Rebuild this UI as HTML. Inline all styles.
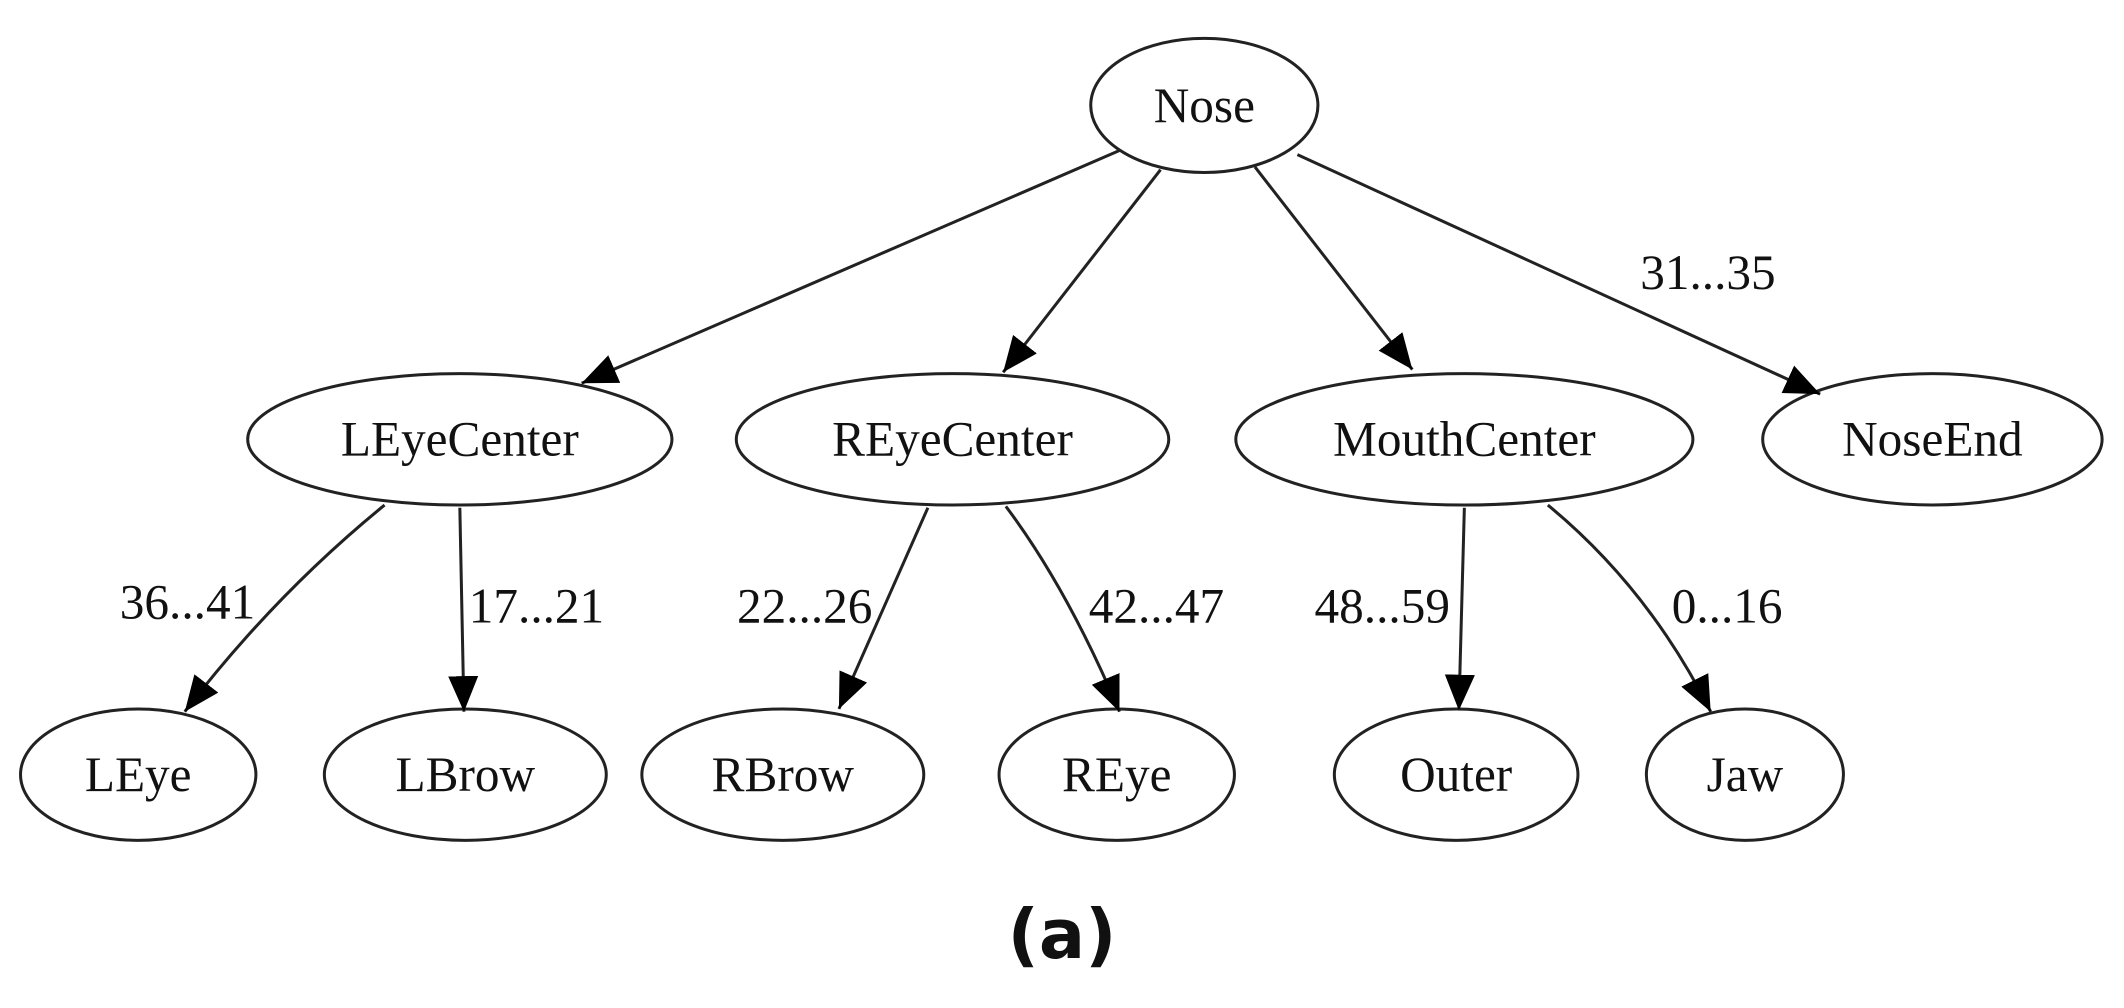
<!DOCTYPE html>
<html><head><meta charset="utf-8"><style>
html,body{margin:0;padding:0;background:#fff;}
svg{display:block;}
text{font-family:"Liberation Serif",serif;font-size:36px;fill:#111;}
</style></head><body>
<svg width="2124" height="1008" viewBox="0 0 1552 736.5" preserveAspectRatio="none" xmlns="http://www.w3.org/2000/svg">
<defs>
<marker id="a" markerUnits="userSpaceOnUse" markerWidth="28" markerHeight="24" refX="26" refY="11" orient="auto">
<path d="M0,0 L26,11 L0,22 Z" fill="#000"/>
</marker>
</defs>
<g fill="none" stroke="#222" stroke-width="2.2">
<ellipse cx="880" cy="77" rx="83" ry="49"/>
<ellipse cx="336" cy="321" rx="155" ry="48"/>
<ellipse cx="696" cy="321" rx="158" ry="48"/>
<ellipse cx="1070" cy="321" rx="167" ry="48"/>
<ellipse cx="1412" cy="321" rx="124" ry="48"/>
<ellipse cx="101" cy="566" rx="86" ry="48"/>
<ellipse cx="340" cy="566" rx="103" ry="48"/>
<ellipse cx="572" cy="566" rx="103" ry="48"/>
<ellipse cx="816" cy="566" rx="86" ry="48"/>
<ellipse cx="1064" cy="566" rx="89" ry="48"/>
<ellipse cx="1275" cy="566" rx="72" ry="48"/>
</g>
<g fill="none" stroke="#222" stroke-width="2.2" marker-end="url(#a)">
<path d="M818,110 L425,280"/>
<path d="M848,124 L733,272"/>
<path d="M917,122 L1032,270"/>
<path d="M948,113 L1330,288"/>
<path d="M281,369 Q200,435 135,520"/>
<path d="M336,371 L339,520"/>
<path d="M678,371 L613,518"/>
<path d="M735,370 Q780,430 818,520"/>
<path d="M1070,371 L1066,519"/>
<path d="M1131,369 Q1205,430 1250,520"/>
</g>
<g text-anchor="middle">
<text x="880" y="89">Nose</text>
<text x="336" y="333">LEyeCenter</text>
<text x="696" y="333">REyeCenter</text>
<text x="1070" y="333">MouthCenter</text>
<text x="1412" y="333">NoseEnd</text>
<text x="101" y="578">LEye</text>
<text x="340" y="578">LBrow</text>
<text x="572" y="578">RBrow</text>
<text x="816" y="578">REye</text>
<text x="1064" y="578">Outer</text>
<text x="1275" y="578">Jaw</text>
<text x="1248" y="211">31...35</text>
<text x="137" y="452">36...41</text>
<text x="392" y="455">17...21</text>
<text x="588" y="455">22...26</text>
<text x="845" y="455">42...47</text>
<text x="1010" y="455">48...59</text>
<text x="1262" y="455">0...16</text>
<text x="776" y="700" style="font-family:'DejaVu Sans','Liberation Sans',sans-serif;font-size:50px;font-weight:bold;">(a)</text>
</g>
</svg>
</body></html>
